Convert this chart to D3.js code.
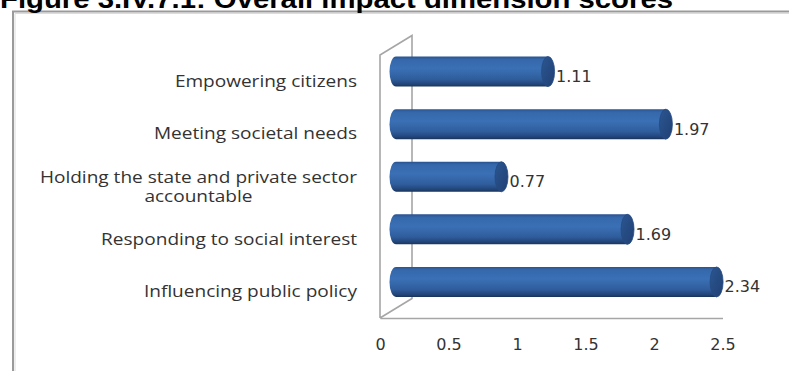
<!DOCTYPE html>
<html>
<head>
<meta charset="utf-8">
<script src="https://cdn.jsdelivr.net/npm/d3@7"></script>
<style>
  html, body { margin: 0; padding: 0; background: #fff; }
  svg { display: block; }
</style>
</head>
<body>
<svg id="chart" width="789" height="371"></svg>
<script>
// Overall impact dimension scores
const categories = [
  "Empowering citizens",
  "Meeting societal needs",
  "Holding the state and private sector accountable",
  "Responding to social interest",
  "Influencing public policy"
];
const scores = [1.11, 1.97, 0.77, 1.69, 2.34];
const tickValues = [0, 0.5, 1, 1.5, 2, 2.5];
const tickLabels = ["0", "0.5", "1", "1.5", "2", "2.5"];
const labelLines = {
  "Holding the state and private sector accountable": ["Holding the state and private sector", "accountable"]
};
const titleText = "Figure 3.IV.7.1: Overall impact dimension scores";

const svg = d3.select("#chart");

// frame around the chart
svg.append("path")
  .attr("d", "M13,372 L13,11.5 L790,11.5")
  .attr("fill", "none").attr("stroke", "#9a9a9a").attr("stroke-width", 2);
svg.append("path")
  .attr("d", "M15,372 L15,13.5 L790,13.5")
  .attr("fill", "none").attr("stroke", "#dcdcdc").attr("stroke-width", 1);

// heading (runs off the top edge)
svg.append("text")
  .attr("x", 0).attr("y", 8)
  .attr("textLength", 673).attr("lengthAdjust", "spacingAndGlyphs")
  .style("font-family", "'Liberation Sans', Arial, sans-serif")
  .style("font-weight", "bold").style("font-size", "25px").style("fill", "#000")
  .text(titleText);

// plot geometry: front plane plus depth offset for the 3D walls
const x = d3.scaleLinear().domain([0, 2.5]).range([380, 722.5]);
const y = d3.scaleBand().domain(categories).range([55, 318]);
const depth = { dx: 32, dy: -19.5 };
const mid = { dx: depth.dx / 2, dy: depth.dy / 2 };
const barH = 30;
const capRx = 6.5;

// side wall and floor edges
const wall = svg.append("g").attr("fill", "none").attr("stroke", "#a6a6a6").attr("stroke-width", 1.6);
const x0 = x(0), yTop = y.range()[0], yBot = y.range()[1];
wall.append("path").attr("d",
  `M${x0},${yBot} L${x0},${yTop} L${x0 + depth.dx},${yTop + depth.dy} L${x0 + depth.dx},${yBot + depth.dy} L${x0},${yBot}`);

// value axis along the front floor edge
const axis = d3.axisBottom(x)
  .tickValues(tickValues)
  .tickSize(0)
  .tickPadding(21)
  .tickFormat((d, i) => tickLabels[i]);
const gAxis = svg.append("g").attr("transform", `translate(0,${yBot})`).call(axis);
gAxis.select(".domain").attr("stroke", "#a6a6a6").attr("stroke-width", 1.6);
gAxis.selectAll("text")
  .style("font-family", "'DejaVu Sans', Verdana, sans-serif")
  .style("font-size", "16px").style("fill", "#333");

// cylinder shading
const defs = svg.append("defs");
const body = defs.append("linearGradient").attr("id", "cylBody")
  .attr("x1", 0).attr("y1", 0).attr("x2", 0).attr("y2", 1);
[["0%", "#2a5290"], ["10%", "#3568ab"], ["40%", "#3b70b6"], ["75%", "#2f5d9c"], ["92%", "#22457a"], ["100%", "#1a3358"]]
  .forEach(([o, c]) => body.append("stop").attr("offset", o).attr("stop-color", c));
const cap = defs.append("linearGradient").attr("id", "cylCap")
  .attr("x1", 0).attr("y1", 0).attr("x2", 1).attr("y2", 1);
[["0%", "#2c5690"], ["100%", "#1f4075"]]
  .forEach(([o, c]) => cap.append("stop").attr("offset", o).attr("stop-color", c));

const data = categories.map((c, i) => ({ cat: c, v: scores[i] }));
const bars = svg.append("g").selectAll("g").data(data).join("g")
  .attr("transform", d => `translate(${mid.dx},${y(d.cat) + y.bandwidth() / 2 + mid.dy})`);

// body with rounded left end
bars.append("path")
  .attr("fill", "url(#cylBody)")
  .attr("d", d => {
    const xs = x(0), xe = x(d.v), h = barH / 2;
    return `M${xe},${-h} L${xs},${-h} A${capRx},${h} 0 0 0 ${xs},${h} L${xe},${h} Z`;
  });
// right end cap
bars.append("ellipse")
  .attr("cx", d => x(d.v)).attr("cy", 0)
  .attr("rx", capRx).attr("ry", barH / 2)
  .attr("fill", "url(#cylCap)")
  .attr("stroke", "#244a80").attr("stroke-width", 0.8);

// value labels
bars.append("text")
  .attr("x", d => x(d.v) + capRx + 1.5)
  .attr("y", 10.5)
  .style("font-family", "'DejaVu Sans', Verdana, sans-serif")
  .style("font-size", "16px").style("fill", "#333")
  .text(d => d3.format(".2f")(d.v));

// category labels on the front plane, widened horizontally
const labelRight = 357, stretch = 1.19;
const catG = svg.append("g")
  .attr("transform", `translate(${labelRight},0) scale(${stretch},1) translate(${-labelRight},0)`)
  .style("font-family", "'Open Sans', sans-serif")
  .style("font-size", "16px").style("fill", "#333");
categories.forEach(c => {
  const lines = labelLines[c] || [c];
  const cy = y(c) + y.bandwidth() / 2;
  const lh = 19;
  const multi = lines.length > 1;
  const t = catG.append("text").attr("text-anchor", multi ? "middle" : "end");
  lines.forEach((ln, k) => {
    t.append("tspan")
      .attr("x", labelRight)
      .attr("y", cy + (k - (lines.length - 1) / 2) * lh)
      .attr("dy", "0.35em")
      .text(ln);
  });
  if (multi) {
    // centre the wrapped lines under the widest one, which ends at labelRight
    const widths = t.selectAll("tspan").nodes().map(n => n.getComputedTextLength());
    const cx = labelRight - d3.max(widths) / 2;
    t.selectAll("tspan").attr("x", cx);
  }
});
</script>
</body>
</html>
